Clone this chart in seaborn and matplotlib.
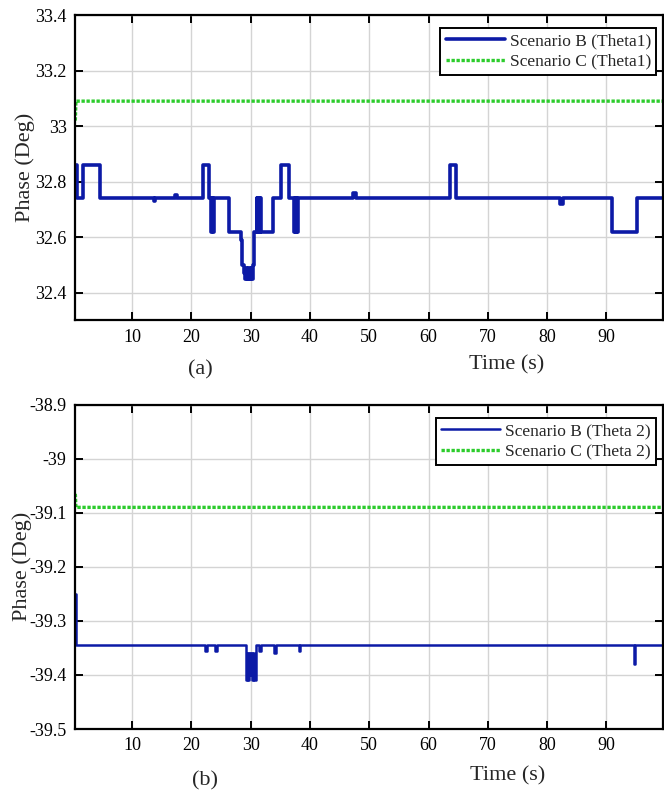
import numpy as np
import pandas as pd
import matplotlib
matplotlib.use("Agg")
import matplotlib.pyplot as plt
import seaborn as sns
from matplotlib.ticker import FuncFormatter

# ---------------- data ----------------
# (a) Theta 1, step changes: time at which a new value starts
tB1 = [0.4, 0.6, 1.75, 4.55, 13.6, 13.9, 17.3, 17.6, 22.0, 22.9, 23.3, 23.5, 23.6, 23.8,
       26.4, 28.4, 28.6, 28.8, 29.0, 29.2, 29.3, 29.6, 29.7, 30.0, 30.1, 30.4, 30.6,
       31.0, 31.1, 31.2, 31.3, 31.4, 31.5, 31.6, 31.7, 33.7, 35.1, 36.4, 37.3, 37.45,
       37.55, 37.7, 37.8, 37.9, 47.3, 47.7, 63.6, 64.6, 82.1, 82.6, 91.0, 95.2, 99.6]
vB1 = [32.86, 32.74, 32.86, 32.74, 32.73, 32.74, 32.75, 32.74, 32.86, 32.74, 32.62, 32.74, 32.62, 32.74,
       32.62, 32.59, 32.50, 32.47, 32.45, 32.49, 32.45, 32.49, 32.45, 32.49, 32.45, 32.50, 32.62,
       32.74, 32.62, 32.74, 32.62, 32.74, 32.62, 32.74, 32.62, 32.74, 32.86, 32.74, 32.62, 32.74,
       32.62, 32.74, 32.62, 32.74, 32.76, 32.74, 32.86, 32.74, 32.72, 32.74, 32.62, 32.74, 32.74]
tC1 = [0.4, 0.5, 20.0, 40.0, 60.0, 80.0, 99.6]
vC1 = [33.02, 33.09, 33.09, 33.09, 33.09, 33.09, 33.09]

# (b) Theta 2
tB2 = [0.4, 0.5, 22.3, 22.6, 24.0, 24.3, 29.2, 29.4, 29.5, 29.7, 29.8, 30.0, 30.2, 30.4,
       30.6, 30.9, 31.4, 31.7, 33.9, 34.2, 38.1, 38.3, 94.6, 94.9, 99.6]
vB2 = [-39.25, -39.345, -39.355, -39.345, -39.355, -39.345, -39.41, -39.36, -39.41, -39.36,
       -39.40, -39.36, -39.41, -39.36, -39.41, -39.345, -39.355, -39.345, -39.36, -39.345,
       -39.355, -39.345, -39.38, -39.345, -39.345]
tC2 = [0.4, 0.5, 20.0, 40.0, 60.0, 80.0, 99.6]
vC2 = [-39.065, -39.09, -39.09, -39.09, -39.09, -39.09, -39.09]

xticks = [10, 20, 30, 40, 50, 60, 70, 80, 90]
yticks_a = [32.4, 32.6, 32.8, 33.0, 33.2, 33.4]
yticks_b = [-39.5, -39.4, -39.3, -39.2, -39.1, -39.0, -38.9]

labels_a = ["Scenario B (Theta1)", "Scenario C (Theta1)"]
labels_b = ["Scenario B (Theta 2)", "Scenario C (Theta 2)"]

# ---------------- style ----------------
sns.set_style("ticks")
plt.rcParams["font.family"] = ["Liberation Serif", "DejaVu Serif"]
plt.rcParams["axes.unicode_minus"] = False

BLUE = "#0c1aa6"
GREEN = "#2ccc2c"

fig = plt.figure(figsize=(6.64, 7.95), dpi=100)
ax1 = fig.add_axes([0.113, 0.597, 0.885, 0.384])
ax2 = fig.add_axes([0.113, 0.083, 0.885, 0.408])

fmt = FuncFormatter(lambda v, p: f"{v:g}")

def draw(ax, tB, vB, tC, vC, labels, ylim, yticks, lwB, labx):
    dB = pd.DataFrame({"t": tB, "v": vB})
    dC = pd.DataFrame({"t": tC, "v": vC})
    sns.lineplot(data=dB, x="t", y="v", ax=ax, color=BLUE, lw=lwB, estimator=None,
                 sort=False, drawstyle="steps-post", label=labels[0])
    sns.lineplot(data=dC, x="t", y="v", ax=ax, color=GREEN, lw=2.4, estimator=None,
                 sort=False, linestyle=(0, (1, 0.5)), label=labels[1])
    ax.set_xlim(0.35, 99.5)
    ax.set_ylim(*ylim)
    ax.set_xticks(xticks)
    ax.set_yticks(yticks)
    ax.yaxis.set_major_formatter(fmt)
    ax.grid(True, color="#d4d4d4", lw=1.0)
    for s in ax.spines.values():
        s.set_visible(True)
        s.set_color("black")
        s.set_linewidth(1.6)
    ax.tick_params(direction="in", top=True, right=True, length=6, width=1.4,
                   labelsize=13, colors="black", pad=6)
    ax.set_xlabel("")
    ax.set_ylabel("Phase (Deg)", fontsize=16)
    ax.yaxis.set_label_coords(labx, 0.5)
    leg = ax.legend(loc="upper right", bbox_to_anchor=(0.995, 0.97), fontsize=12.5,
                    frameon=True, fancybox=False, framealpha=1, edgecolor="black",
                    handlelength=3.4, handletextpad=0.3, borderpad=0.3, labelspacing=0.25,
                    borderaxespad=0.2)
    leg.get_frame().set_linewidth(1.4)

draw(ax1, tB1, vB1, tC1, vC1, labels_a, (32.3, 33.4), yticks_a, 2.6, -0.068)
draw(ax2, tB2, vB2, tC2, vC2, labels_b, (-39.5, -38.9), yticks_b, 1.8, -0.073)

W, H = 664, 795
fig.text(200 / W, 1 - 370 / H, "(a)", fontsize=16, ha="center", va="center")
fig.text(507 / W, 1 - 365 / H, "Time (s)", fontsize=16, ha="center", va="center")
fig.text(205 / W, 1 - 781 / H, "(b)", fontsize=16, ha="center", va="center")
fig.text(508 / W, 1 - 776 / H, "Time (s)", fontsize=16, ha="center", va="center")

fig.savefig("out.png", dpi=100)
